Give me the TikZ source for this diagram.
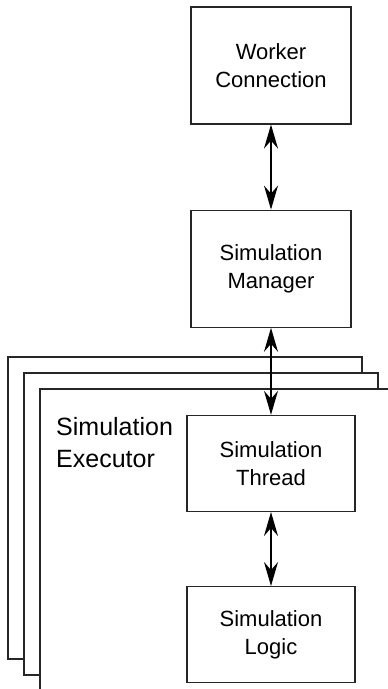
\documentclass[tikz,border=0pt]{standalone}
\usepackage{fontspec}
\setmainfont{Liberation Sans}
\usetikzlibrary{arrows.meta,positioning}

\tikzset{
  block/.style={draw=black!85, line width=1.2pt, fill=white, minimum width=160pt, minimum height=117pt,
    align=center, inner sep=0pt, font=\fontsize{22}{27.5}\selectfont},
  wide block/.style={block, minimum width=168pt, minimum height=96pt},
  frame/.style={draw=black!85, line width=1.2pt, fill=white},
  link/.style={line width=1.5pt,
    {Stealth[length=24pt,width=14pt,inset=8pt]}-{Stealth[length=24pt,width=14pt,inset=8pt]}}
}

\begin{document}
\begin{tikzpicture}[x=1pt,y=-1pt]
	\useasboundingbox (0,0) rectangle (388,689);
	\clip (0,0) rectangle (388,689);

	% executor copies, back to front
	\foreach \d in {0,16,32}
		{
		\draw[frame] (8+\d,357+\d) rectangle (362+\d,659+\d);
		}
	\node[anchor=north west, inner sep=0pt, align=left, font=\fontsize{25}{31.7}\selectfont] (executor) at (56,417) {Simulation\\Executor};

	\node[block] (worker) at (271,65.5) {Worker\\Connection};
	\node[block, below=85pt of worker] (manager) {Simulation\\Manager};
	\node[wide block, below=87pt of manager] (thread) {Simulation\\Thread};
	\node[wide block, below=74pt of thread] (logic) {Simulation\\Logic};

	\draw[link] (worker) -- (manager);
	\draw[link] (manager) -- (thread);
	\draw[link] (thread) -- (logic);
\end{tikzpicture}
\end{document}
